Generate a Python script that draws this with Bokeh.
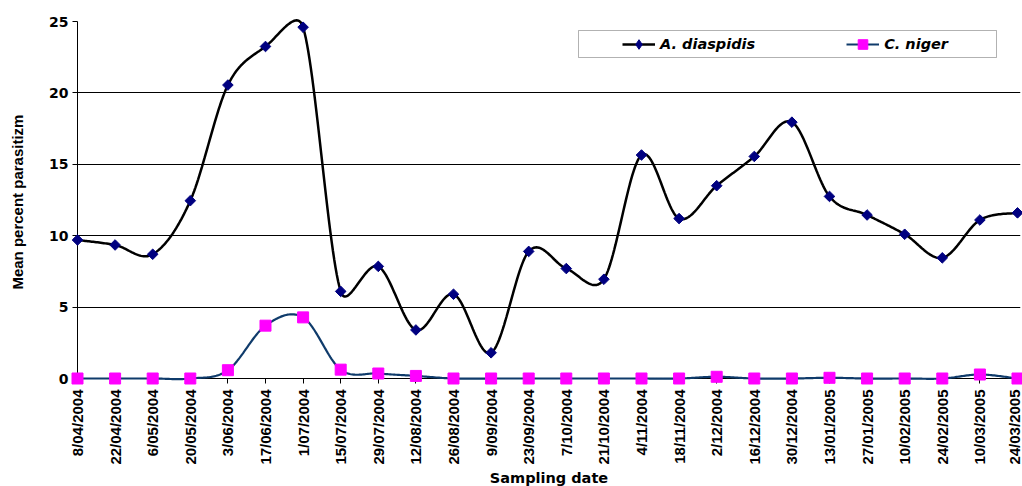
import numpy as np
from bokeh.plotting import figure
from bokeh.models import (Range1d, FixedTicker, Legend, LegendItem,
                          BoxAnnotation, Title)
from bokeh.embed import file_html
from bokeh.resources import INLINE

# Sampling dates (fortnightly, April 2004 - March 2005)
dates = ["8/04/2004", "22/04/2004", "6/05/2004", "20/05/2004", "3/06/2004",
         "17/06/2004", "1/07/2004", "15/07/2004", "29/07/2004", "12/08/2004",
         "26/08/2004", "9/09/2004", "23/09/2004", "7/10/2004", "21/10/2004",
         "4/11/2004", "18/11/2004", "2/12/2004", "16/12/2004", "30/12/2004",
         "13/01/2005", "27/01/2005", "10/02/2005", "24/02/2005", "10/03/2005",
         "24/03/2005"]

# Mean percent parasitism per sampling date
a_diaspidis = [9.7, 9.35, 8.7, 12.45, 20.55, 23.25, 24.6, 6.1, 7.85, 3.4,
               5.9, 1.8, 8.9, 7.7, 6.95, 15.65, 11.2, 13.5, 15.55, 17.95,
               12.75, 11.45, 10.1, 8.45, 11.1, 11.6]
c_niger = [0.0, 0.0, 0.0, 0.0, 0.58, 3.7, 4.28, 0.62, 0.35, 0.18,
           0.0, 0.0, 0.0, 0.0, 0.0, 0.0, 0.0, 0.12, 0.0, 0.0,
           0.05, 0.0, 0.0, 0.0, 0.28, 0.0]

y_ticks = [0, 5, 10, 15, 20, 25]

W, H = 1022, 486
BORDER_L, BORDER_R, BORDER_T, BORDER_B = 77, 2, 21, 108
X_END, Y_END = 25.08, 25.0

x_idx = np.arange(len(dates), dtype=float)

# pixels per data unit, used so the smoothing works in screen space
SX = (W - BORDER_L - BORDER_R) / X_END
SY = (H - BORDER_T - BORDER_B) / Y_END


def smooth(xs, ys, steps=30):
    """Spreadsheet-style smoothed line: cubic Bezier segments whose control
    arms are 1/6 of the neighbour chord, capped at half the segment length."""
    pts = np.column_stack([np.asarray(xs, float) * SX,
                           np.asarray(ys, float) * SY])
    ext = np.vstack([pts[:1], pts, pts[-1:]])
    t = np.linspace(0, 1, steps)[:, None]
    out = []
    for i in range(1, len(ext) - 2):
        p0, p1, p2, p3 = ext[i - 1], ext[i], ext[i + 1], ext[i + 2]
        d12 = np.hypot(*(p2 - p1))
        d02 = np.hypot(*(p2 - p0))
        d13 = np.hypot(*(p3 - p1))
        f0 = 1 / 6
        f1 = 1 / 6
        if d02 / 6 >= d12 / 2 and d02 > 0:
            f0 = d12 / 2 / d02
        if d13 / 6 >= d12 / 2 and d13 > 0:
            f1 = d12 / 2 / d13
        c1 = p1 + (p2 - p0) * f0
        c2 = p2 - (p3 - p1) * f1
        seg = ((1 - t) ** 3 * p1 + 3 * (1 - t) ** 2 * t * c1
               + 3 * (1 - t) * t ** 2 * c2 + t ** 3 * p2)
        out.append(seg if i == 1 else seg[1:])
    out = np.vstack(out)
    return out[:, 0] / SX, out[:, 1] / SY


p = figure(width=W, height=H, output_backend="svg", toolbar_location=None,
           x_range=Range1d(0, X_END), y_range=Range1d(0, Y_END),
           min_border_left=BORDER_L, min_border_right=BORDER_R,
           min_border_top=BORDER_T, min_border_bottom=BORDER_B)
p.outline_line_color = None
p.background_fill_color = "white"
p.border_fill_color = "white"

# grid
p.xgrid.visible = False
p.ygrid.ticker = FixedTicker(ticks=y_ticks)
p.ygrid.grid_line_color = "black"
p.ygrid.grid_line_width = 1

# y axis
ya = p.yaxis[0]
ya.ticker = FixedTicker(ticks=y_ticks)
ya.axis_line_color = "black"
ya.major_tick_line_color = "black"
ya.major_tick_out = 5
ya.major_tick_in = 0
ya.minor_tick_line_color = None
ya.major_label_standoff = 4
ya.major_label_text_font = "DejaVu Sans"
ya.major_label_text_font_style = "bold"
ya.major_label_text_font_size = "14px"
ya.major_label_text_color = "black"
ya.axis_label = "Mean percent  parasitizm"
ya.axis_label_text_font = "Liberation Sans"
ya.axis_label_text_font_style = "bold"
ya.axis_label_text_font_size = "15px"
ya.axis_label_text_color = "black"
ya.axis_label_standoff = 20

# x axis
xa = p.xaxis[0]
xa.ticker = FixedTicker(ticks=list(range(len(dates))))
xa.major_label_overrides = {i: d for i, d in enumerate(dates)}
xa.major_label_orientation = np.pi / 2
xa.axis_line_color = "black"
xa.major_tick_line_color = "black"
xa.major_tick_out = 5
xa.major_tick_in = 0
xa.minor_tick_line_color = None
xa.major_label_standoff = 6
xa.major_label_text_font = "Liberation Sans"
xa.major_label_text_font_style = "bold"
xa.major_label_text_font_size = "15px"
xa.major_label_text_color = "black"

p.add_layout(Title(text="Sampling date", align="center", offset=-34,
                   standoff=0, text_font="DejaVu Sans",
                   text_font_style="bold", text_font_size="14.5px",
                   text_color="black"), "below")

# series
ax, ay = smooth(x_idx, a_diaspidis)
cx, cy = smooth(x_idx, c_niger)

la = p.line(ax, ay, line_color="black", line_width=2.5, level="overlay")
sa = p.scatter(x_idx, a_diaspidis, marker="square", angle=np.pi / 4, size=7.5,
               fill_color="#000080", line_color="#000080", level="overlay")
lc = p.line(cx, cy, line_color="#0F3B6B", line_width=2.2, level="overlay")
sc = p.scatter(x_idx, c_niger, marker="square", size=11,
               fill_color="#FF00FF", line_color="#FF00FF", level="overlay")

# diamond legend key for the first series (hidden on the plot itself)
key_a = p.scatter(x_idx, a_diaspidis, marker="diamond", size=13,
                  fill_color="#000080", line_color="#000080", visible=False)

# legend frame
p.add_layout(BoxAnnotation(left=501, right=919, top=348, bottom=321,
                           left_units="screen", right_units="screen",
                           top_units="screen", bottom_units="screen",
                           fill_color="white", fill_alpha=1,
                           line_color="black", line_width=1))

legend = Legend(items=[LegendItem(label="A. diaspidis", renderers=[la, key_a]),
                       LegendItem(label="C. niger", renderers=[lc, sc])],
                orientation="horizontal", location=(545, 322),
                padding=0, margin=0, spacing=91,
                glyph_width=33, glyph_height=24, label_standoff=5,
                border_line_color=None, background_fill_alpha=0,
                inactive_fill_alpha=0,
                label_text_font="DejaVu Sans",
                label_text_font_style="bold italic",
                label_text_font_size="14.5px", label_text_color="black")
p.add_layout(legend)

open("out.html", "w").write(file_html(p, INLINE))
